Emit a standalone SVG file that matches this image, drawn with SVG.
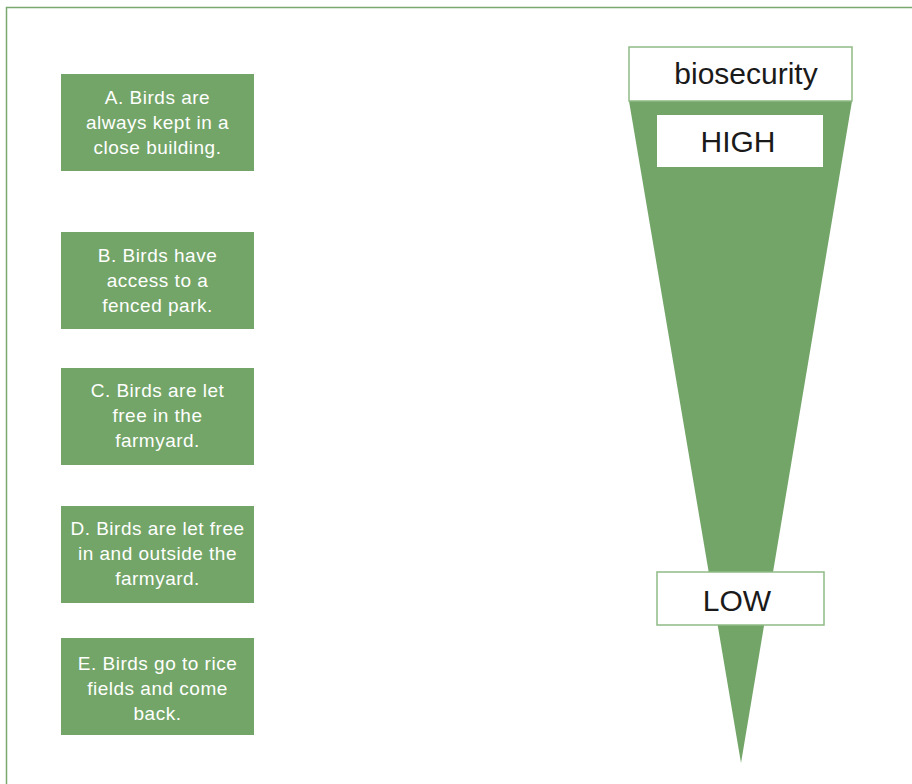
<svg xmlns="http://www.w3.org/2000/svg" width="912" height="784" viewBox="0 0 912 784">
<style>
.box{fill:#73a568}
.bt{fill:#ffffff;font-family:"Liberation Sans",Arial,sans-serif;font-size:19px;letter-spacing:0.5px;text-anchor:middle}
.lbl{fill:#1a1a1a;font-family:"Liberation Sans",Arial,sans-serif;font-size:30px;text-anchor:middle}
.wb{fill:#ffffff;stroke:#8fbb85;stroke-width:1.5}
</style>
<rect width="912" height="784" fill="#ffffff"/>
<path d="M6.5 784 V7.5 H912" fill="none" stroke="#7aa86e" stroke-width="1.5"/>
<g id="A"><rect class="box" x="61" y="74" width="193" height="97"/><text class="bt"><tspan x="157.5" y="104">A. Birds are</tspan><tspan x="157.5" y="129">always kept in a</tspan><tspan x="157.5" y="154">close building.</tspan></text></g>
<g id="B"><rect class="box" x="61" y="232" width="193" height="97"/><text class="bt"><tspan x="157.5" y="262">B. Birds have</tspan><tspan x="157.5" y="287">access to a</tspan><tspan x="157.5" y="312">fenced park.</tspan></text></g>
<g id="C"><rect class="box" x="61" y="368" width="193" height="97"/><text class="bt"><tspan x="157.5" y="397">C. Birds are let</tspan><tspan x="157.5" y="422">free in the</tspan><tspan x="157.5" y="447">farmyard.</tspan></text></g>
<g id="D"><rect class="box" x="61" y="506" width="193" height="97"/><text class="bt"><tspan x="157.5" y="535">D. Birds are let free</tspan><tspan x="157.5" y="560">in and outside the</tspan><tspan x="157.5" y="585">farmyard.</tspan></text></g>
<g id="E"><rect class="box" x="61" y="638" width="193" height="97"/><text class="bt"><tspan x="157.5" y="670">E. Birds go to rice</tspan><tspan x="157.5" y="695">fields and come</tspan><tspan x="157.5" y="720">back.</tspan></text></g>
<g id="scale">
<polygon points="629,101 852,101 741,763" fill="#73a568"/>
<rect class="wb" x="629" y="47" width="223" height="54"/>
<text class="lbl" x="746" y="84">biosecurity</text>
<rect x="657" y="115" width="166" height="52" fill="#ffffff"/>
<text class="lbl" x="738" y="152">HIGH</text>
<rect class="wb" x="657" y="572" width="167" height="53"/>
<text class="lbl" x="737" y="611">LOW</text>
</g>
<g id="connectors"/>
</svg>
